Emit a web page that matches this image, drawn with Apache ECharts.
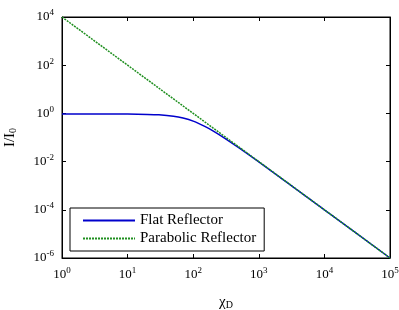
<!DOCTYPE html>
<html>
<head>
<meta charset="utf-8">
<script src="https://cdn.jsdelivr.net/npm/echarts@6/dist/echarts.min.js"></script>
<style>
  html, body { margin: 0; padding: 0; background: #fff; }
  #chart { width: 399px; height: 310px; }
</style>
</head>
<body>
<div id="chart"></div>
<script>
// x = chi_D, y = I/I0
const flatX = [1, 2, 5, 10, 20, 30, 50, 70, 100, 150, 200, 300, 500, 1000, 10000, 100000];
const flatY = [0.95, 0.95, 0.95, 0.94, 0.91, 0.87, 0.76, 0.64, 0.48, 0.29, 0.19, 0.095, 0.037, 0.0097, 0.0001, 0.000001];
const paraX = [1, 10, 100, 1000, 10000, 100000];
const paraY = [10000, 100, 1, 0.01, 0.0001, 0.000001];

const font = "Liberation Serif";

function powLabel(v) {
    const e = Math.round(Math.log10(v));
    return "{b|10}{s|" + e + "}";
}
const labelRich = {
    b: { fontFamily: font, fontSize: 13, color: "#000" },
    s: { fontFamily: font, fontSize: 9, color: "#000", verticalAlign: "top", padding: [0, 0, 8, 0] }
};

let myChart = echarts.init(document.getElementById("chart"));
myChart.setOption({
    animation: false,
    grid: {
        left: 62, right: 9, top: 17, bottom: 52,
        outerBoundsMode: "none",
        show: true, borderColor: "#000", borderWidth: 1
    },
    legend: {
        orient: "vertical",
        left: 70,
        top: 208,
        padding: [5, 8, 5, 12],
        itemGap: 3,
        itemWidth: 52,
        itemHeight: 15,
        backgroundColor: "#fff",
        borderColor: "#000",
        borderWidth: 1,
        itemStyle: { opacity: 0 },
        textStyle: { fontFamily: font, fontSize: 15, color: "#000" },
        data: ["Flat Reflector", "Parabolic Reflector"]
    },
    xAxis: [
        {
            type: "log",
            min: 1,
            max: 100000,
            name: "{n|χ}{d|D}",
            nameLocation: "middle",
            nameGap: 36,
            nameTextStyle: {
                rich: {
                    n: { fontFamily: font, fontSize: 15, color: "#000" },
                    d: { fontFamily: font, fontSize: 10, color: "#000", verticalAlign: "bottom", padding: [6, 0, 0, 0] }
                }
            },
            axisLine: { lineStyle: { color: "#000" } },
            axisTick: { inside: true, length: 4, lineStyle: { color: "#000" } },
            axisLabel: { formatter: powLabel, rich: labelRich, margin: 8 },
            splitLine: { show: false }
        },
        {
            type: "log",
            min: 1,
            max: 100000,
            position: "top",
            axisLine: { lineStyle: { color: "#000" } },
            axisTick: { inside: true, length: 4, lineStyle: { color: "#000" } },
            axisLabel: { show: false },
            splitLine: { show: false }
        }
    ],
    yAxis: [
        {
            type: "log",
            min: 0.000001,
            max: 10000,
            interval: 2,
            name: "{n|I/I}{d|0}",
            nameLocation: "middle",
            nameGap: 44,
            nameTextStyle: {
                rich: {
                    n: { fontFamily: font, fontSize: 15, color: "#000" },
                    d: { fontFamily: font, fontSize: 10, color: "#000", verticalAlign: "bottom", padding: [6, 0, 0, 0] }
                }
            },
            axisLine: { lineStyle: { color: "#000" } },
            axisTick: { inside: true, length: 4, lineStyle: { color: "#000" } },
            axisLabel: { formatter: powLabel, rich: labelRich, margin: 8 },
            splitLine: { show: false }
        },
        {
            type: "log",
            min: 0.000001,
            max: 10000,
            interval: 2,
            position: "right",
            axisLine: { lineStyle: { color: "#000" } },
            axisTick: { inside: true, length: 4, lineStyle: { color: "#000" } },
            axisLabel: { show: false },
            splitLine: { show: false }
        }
    ],
    series: [
        {
            name: "Flat Reflector",
            type: "line",
            smooth: 0.3,
            showSymbol: false,
            symbol: "none",
            data: flatX.map((x, i) => [x, flatY[i]]),
            lineStyle: { color: "#0000cc", width: 1.5 },
            itemStyle: { color: "#0000cc" },
            z: 2
        },
        {
            name: "Parabolic Reflector",
            type: "line",
            showSymbol: false,
            symbol: "none",
            data: paraX.map((x, i) => [x, paraY[i]]),
            lineStyle: { color: "#1f8f1f", width: 1.5, type: [2, 1] },
            itemStyle: { color: "#1f8f1f" },
            z: 3
        }
    ]
});
</script>
</body>
</html>
